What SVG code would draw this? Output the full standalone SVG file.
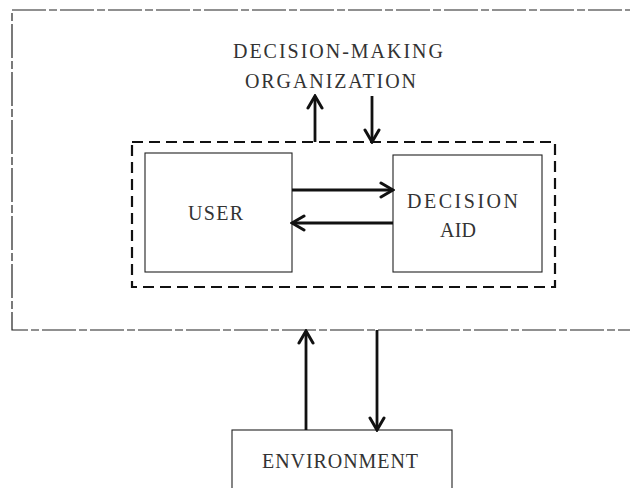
<svg xmlns="http://www.w3.org/2000/svg" width="630" height="488" viewBox="0 0 630 488">
  <defs>
    <style>
      .lbl { font-family: "Liberation Serif", "Times New Roman", serif; font-size: 20px; fill: #333; }
      .thin { fill: none; stroke: #222; stroke-width: 1.1; }
      .outer { fill: none; stroke: #222; stroke-width: 1.2; stroke-dasharray: 34 3 8 3; }
      .inner { fill: none; stroke: #111; stroke-width: 2.2; stroke-dasharray: 11 6; }
      .arrow { fill: none; stroke: #111; stroke-width: 2.8; marker-end: url(#head); }
    </style>
    <marker id="head" markerUnits="userSpaceOnUse" viewBox="0 0 16 18" refX="14" refY="9" markerWidth="16" markerHeight="18" orient="auto">
      <path d="M2,2 L14,9 L2,16" fill="none" stroke="#111" stroke-width="3" stroke-linecap="round" stroke-linejoin="miter"/>
    </marker>
  </defs>

  <g id="organization">
    <rect class="outer" x="12" y="10" width="640" height="320"/>
    <text class="lbl" x="233" y="58" textLength="210" lengthAdjust="spacing">DECISION-MAKING</text>
    <text class="lbl" x="245" y="88" textLength="171" lengthAdjust="spacing">ORGANIZATION</text>
  </g>

  <g id="system">
    <rect class="inner" x="132" y="142" width="423" height="145"/>
  </g>

  <g id="user">
    <rect class="thin" x="145" y="153" width="147" height="119"/>
    <text class="lbl" x="188" y="220" textLength="55" lengthAdjust="spacing">USER</text>
  </g>

  <g id="decision-aid">
    <rect class="thin" x="393" y="155" width="149" height="117"/>
    <text class="lbl" x="407" y="208" textLength="111" lengthAdjust="spacing">DECISION</text>
    <text class="lbl" x="440" y="237" textLength="36" lengthAdjust="spacing">AID</text>
  </g>

  <g id="environment">
    <rect class="thin" x="232" y="430" width="220" height="80"/>
    <text class="lbl" x="262" y="468" textLength="156" lengthAdjust="spacing">ENVIRONMENT</text>
  </g>

  <g id="connectors">
    <line class="arrow" x1="315" y1="142" x2="315" y2="96"/>
    <line class="arrow" x1="372" y1="96" x2="372" y2="142"/>
    <line class="arrow" x1="292" y1="190" x2="393" y2="190"/>
    <line class="arrow" x1="393" y1="223" x2="292" y2="223"/>
    <line class="arrow" x1="306" y1="430" x2="306" y2="331"/>
    <line class="arrow" x1="377" y1="330" x2="377" y2="430"/>
  </g>
</svg>
